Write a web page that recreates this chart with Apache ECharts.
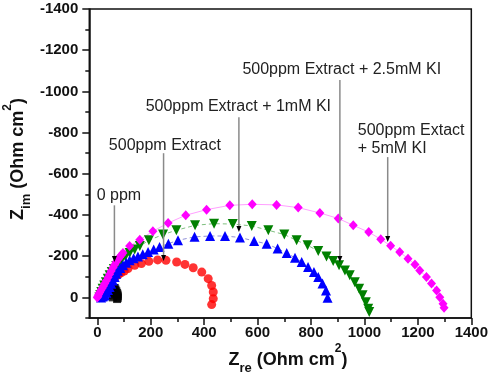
<!DOCTYPE html>
<html><head><meta charset="utf-8">
<script src="https://cdn.jsdelivr.net/npm/echarts@6/dist/echarts.min.js"></script>
<style>html,body{margin:0;padding:0;background:#fff}#c{width:491px;height:375px}</style>
</head><body><div id="c"></div>
<script>
// ---- data (Z_re, -Z_im in Ohm cm2) ----
const seriesNames = ['0 ppm', '500ppm Extract', '500ppm Extract + 1mM KI', '500ppm Extract + 2.5mM KI', '500ppm Extact + 5mM KI'];
const blankX = [58, 59, 60, 61, 62, 63, 65, 68, 71, 74, 76, 77, 76, 74];
const blankY = [0, -9, -18, -27, -36, -45, -46, -38, -30, -22, -14, -5, 3, 8];
const extX = [20, 22, 25, 29, 33, 38, 44, 51, 59, 68, 78, 89, 101, 115, 140, 165, 193, 226, 257, 297, 328, 359, 391, 415, 428, 434, 434, 428];
const extY = [0, -8, -18, -29, -40, -52, -64, -77, -89, -100, -110, -119, -128, -140, -156, -164, -175, -182, -180, -172, -160, -144, -123, -91, -58, -26, 6, 35];
const ki1X = [14, 20, 24, 28, 34, 40, 46, 52, 58, 65, 71, 77, 86, 96, 108, 121, 136, 152, 170, 190, 211, 233, 266, 302, 364, 422, 478, 534, 587, 634, 675, 709, 740, 765, 789, 811, 827, 843, 856, 862];
const ki1Y = [0, -4, -8, -12, -23, -36, -51, -66, -82, -99, -115, -129, -143, -156, -168, -180, -190, -199, -210, -220, -232, -245, -261, -277, -294, -298, -298, -291, -274, -260, -237, -215, -192, -172, -147, -123, -99, -67, -34, 2];
const ki25X = [8, 11, 15, 20, 26, 32, 39, 46, 54, 62, 71, 80, 90, 105, 121, 140, 159, 193, 246, 296, 366, 437, 507, 578, 640, 700, 746, 787, 827, 858, 883, 905, 927, 945, 964, 980, 993, 1005, 1014, 1018];
const ki25Y = [0, -12, -26, -42, -58, -74, -91, -107, -123, -138, -153, -167, -180, -198, -215, -232, -249, -277, -305, -326, -350, -358, -356, -347, -326, -305, -277, -253, -225, -199, -177, -156, -131, -107, -74, -42, -10, 23, 55, 71];
const ki5X = [0, 2, 5, 9, 13, 18, 23, 28, 34, 40, 46, 52, 59, 65, 71, 78, 84, 90, 96, 121, 159, 208, 265, 331, 409, 496, 580, 671, 752, 833, 902, 958, 1016, 1061, 1098, 1132, 1163, 1189, 1207, 1232, 1251, 1270, 1282, 1294, 1298];
const ki5Y = [0, -6, -14, -24, -34, -44, -55, -67, -81, -96, -112, -128, -145, -159, -172, -185, -196, -206, -215, -249, -280, -321, -361, -399, -426, -447, -452, -449, -436, -410, -383, -350, -317, -282, -251, -220, -188, -160, -131, -99, -67, -34, -1, 31, 50];

const xMajorTicks = [0, 200, 400, 600, 800, 1000, 1200, 1400];
const xMinorTicks = [100, 300, 500, 700, 900, 1100, 1300];
const yMajorTicks = [-1400, -1200, -1000, -800, -600, -400, -200, 0];
const yMinorTicks = [-1300, -1100, -900, -700, -500, -300, -100, 100];

// annotation texts and their anchor points (data units)
const annTexts = ['0 ppm', '500ppm Extract', '500ppm Extract + 1mM KI', '500ppm Extract + 2.5mM KI', '500ppm Extact\n+ 5mM KI'];
const annTextAt = [[81, -496], [253, -739], [528, -926], [915, -1108], [975, -768]];
const annAlign = ['center', 'center', 'center', 'center', 'left'];
const annFrom = [[64, -447], [248, -700], [530, -875], [908, -1055], [1087, -681]];
const annTo = [[64, -172], [248, -177], [530, -318], [908, -172], [1087, -269]];

function zip(a, b) { return a.map((v, i) => [v, b[i]]); }

const FONT = '"Liberation Sans", Arial, Helvetica, sans-serif';
const chart = echarts.init(document.getElementById('c'), null, {renderer: 'canvas', width: 491, height: 375});

const axisLabelStyle = {fontFamily: FONT, fontSize: 15, fontWeight: 'bold', color: '#111', formatter: v => String(v)};

chart.setOption({
  animation: false,
  backgroundColor: '#fff',
  grid: {left: 89.3, right: 19.5, top: 9, bottom: 57, show: true, borderColor: '#111', borderWidth: 1.5, backgroundColor: 'transparent'},
  xAxis: [{
    type: 'value', min: -30, max: 1400, position: 'bottom',
    axisLine: {show: true, onZero: false, lineStyle: {color: '#111', width: 1.5}},
    axisTick: {show: true, inside: false, length: 7, customValues: xMajorTicks, lineStyle: {color: '#111', width: 1.5}},
    axisLabel: Object.assign({show: true, margin: 7, customValues: xMajorTicks}, axisLabelStyle),
    splitLine: {show: false}
  }, {
    type: 'value', min: -30, max: 1400, position: 'bottom', gridIndex: 0,
    axisLine: {show: false, onZero: false},
    axisTick: {show: true, inside: false, length: 4, customValues: xMinorTicks, lineStyle: {color: '#111', width: 1.5}},
    axisLabel: {show: false},
    splitLine: {show: false}
  }],
  yAxis: [{
    type: 'value', min: -1400, max: 100, inverse: true, position: 'left',
    axisLine: {show: true, onZero: false, lineStyle: {color: '#111', width: 1.5}},
    axisTick: {show: true, inside: false, length: 7, customValues: yMajorTicks, lineStyle: {color: '#111', width: 1.5}},
    axisLabel: Object.assign({show: true, margin: 11, customValues: yMajorTicks}, axisLabelStyle),
    splitLine: {show: false}
  }, {
    type: 'value', min: -1400, max: 100, inverse: true, position: 'left', gridIndex: 0,
    axisLine: {show: false, onZero: false},
    axisTick: {show: true, inside: false, length: 4, customValues: yMinorTicks, lineStyle: {color: '#111', width: 1.5}},
    axisLabel: {show: false},
    splitLine: {show: false}
  }],
  series: [
    {name: seriesNames[1], type: 'scatter', data: zip(extX, extY), symbol: 'circle', symbolSize: 9,
     itemStyle: {color: '#FF0000'}},
    {name: seriesNames[3], type: 'line', data: zip(ki25X, ki25Y), symbol: 'triangle', symbolRotate: 180, symbolSize: 10, showSymbol: true,
     itemStyle: {color: '#008000'}, lineStyle: {color: '#7FBF7F', width: 1, type: [4, 3]}},
    {name: seriesNames[2], type: 'line', data: zip(ki1X, ki1Y), symbol: 'triangle', symbolSize: 10, showSymbol: true,
     itemStyle: {color: '#0000FF'}, lineStyle: {color: '#9090D8', width: 1, type: [4, 3]}},
    {name: seriesNames[4], type: 'line', data: zip(ki5X, ki5Y), symbol: 'diamond', symbolSize: [9, 10], showSymbol: true,
     itemStyle: {color: '#FF00FF'}, lineStyle: {color: '#FFA0FF', width: 1}},
    {name: seriesNames[0], type: 'scatter', data: zip(blankX, blankY), symbol: 'rect', symbolSize: 8,
     itemStyle: {color: '#000000'}}
  ]
});

// titles & annotations
const g = [];
const rich = {
  m: {fontFamily: FONT, fontSize: 18, fontWeight: 'bold', fill: '#111'},
  s: {fontFamily: FONT, fontSize: 13, fontWeight: 'bold', fill: '#111', padding: [16, 0, 0, 0]},
  p: {fontFamily: FONT, fontSize: 12, fontWeight: 'bold', fill: '#111', padding: [0, 0, 22, 0]}
};
g.push({type: 'text', x: 288, y: 360, z: 100, style: {text: '{m|Z}{s|re}{m| (Ohm cm}{p|2}{m|)}', rich: rich, align: 'center', verticalAlign: 'middle'}});
g.push({type: 'text', x: 18.5, y: 159, rotation: Math.PI / 2, z: 100, style: {text: '{m|Z}{s|im}{m| (Ohm cm}{p|2}{m|)}', rich: rich, align: 'center', verticalAlign: 'middle'}});

annTexts.forEach((t, i) => {
  const tp = chart.convertToPixel({gridIndex: 0}, annTextAt[i]);
  const a = chart.convertToPixel({gridIndex: 0}, annFrom[i]);
  const b = chart.convertToPixel({gridIndex: 0}, annTo[i]);
  g.push({type: 'text', x: tp[0], y: tp[1], z: 100, style: {text: t, fontFamily: FONT, fontSize: 16, fill: '#222', align: annAlign[i], verticalAlign: 'middle', lineHeight: 18}});
  g.push({type: 'line', z: 100, shape: {x1: a[0], y1: a[1], x2: b[0], y2: b[1] - 5}, style: {stroke: '#8a8a8a', lineWidth: 1.5}});
  g.push({type: 'polygon', z: 101, shape: {points: [[b[0] - 2.5, b[1] - 6], [b[0] + 2.5, b[1] - 6], [b[0], b[1]]]}, style: {fill: '#000'}});
});
chart.setOption({graphic: g});
</script></body></html>
